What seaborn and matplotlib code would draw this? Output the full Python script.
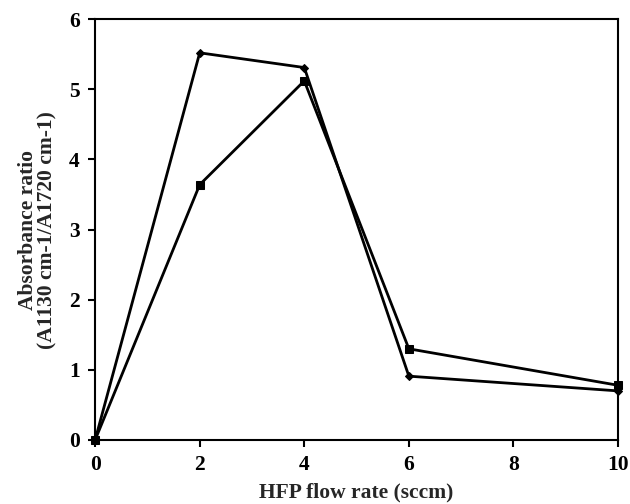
import matplotlib
matplotlib.use("Agg")
import matplotlib.pyplot as plt
import seaborn as sns
import pandas as pd

flow_rate = [0, 2, 4, 6, 10]
series_diamond = [0.0, 5.52, 5.31, 0.91, 0.70]
series_square = [0.0, 3.64, 5.12, 1.30, 0.78]
x_ticks = [0, 2, 4, 6, 8, 10]
y_ticks = [0, 1, 2, 3, 4, 5, 6]

df = pd.DataFrame({
    "flow": flow_rate * 2,
    "ratio": series_diamond + series_square,
    "series": ["diamond"] * len(flow_rate) + ["square"] * len(flow_rate),
})

sns.set_style("ticks")
plt.rcParams["font.family"] = ["Liberation Serif", "DejaVu Serif"]
plt.rcParams["font.weight"] = "bold"

fig = plt.figure(figsize=(6.3, 5.04), dpi=100)
ax = fig.add_axes([0.151, 0.127, 0.830, 0.835])

sns.lineplot(data=df, x="flow", y="ratio", hue="series", style="series",
             markers={"diamond": "D", "square": "s"}, dashes=False,
             palette=["black", "black"], legend=False, ax=ax,
             linewidth=2, markersize=6, markeredgecolor="black")
for ln in ax.lines:
    ln.set_clip_on(False)
for ln, ms in zip(ax.lines, [4.5, 6]):
    ln.set_markersize(ms)

ax.set_xlim(0, 10)
ax.set_ylim(0, 6)
ax.set_xticks(x_ticks)
ax.set_yticks(y_ticks)
ax.tick_params(direction="out", length=5, width=1.5, labelsize=15.5, colors="black", pad=6)
for lab in ax.get_xticklabels() + ax.get_yticklabels():
    lab.set_fontweight("bold")
for sp in ax.spines.values():
    sp.set_visible(True)
    sp.set_linewidth(1.5)
    sp.set_color("black")

ax.set_xlabel("HFP flow rate (sccm)", fontsize=15.5, fontweight="bold", labelpad=5)
ax.set_ylabel("Absorbance ratio\n(A1130 cm-1/A1720 cm-1)", fontsize=15.5,
              fontweight="bold", labelpad=8, linespacing=1.0)

fig.savefig("out.png", dpi=100)
